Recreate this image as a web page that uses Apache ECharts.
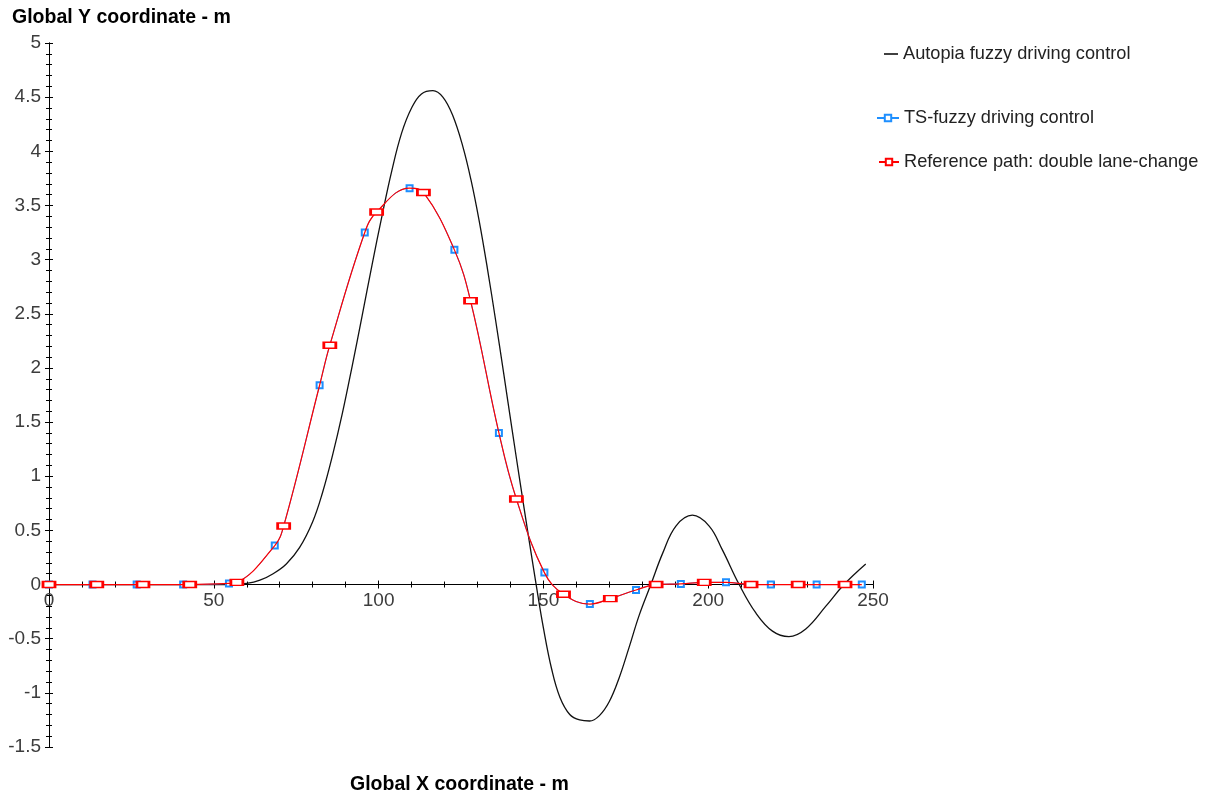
<!DOCTYPE html>
<html>
<head>
<meta charset="utf-8">
<script src="https://cdn.jsdelivr.net/npm/echarts@6/dist/echarts.min.js"></script>
<style>
  html, body { margin: 0; padding: 0; background: #fff; }
  #chart { width: 1212px; height: 800px; }
</style>
</head>
<body>
<div id="chart"></div>
<script>
// Autopia fuzzy driving control: lateral position along the track
const autoX = [0, 30, 55, 60, 64, 68, 72, 76, 80, 83, 86, 89, 92, 95, 98, 101, 104, 107, 110, 113,
  116.5, 119.5, 122.5, 125.5, 128.0, 130.5, 133.0, 135.5, 138.0, 140.5, 143.0, 145.5, 147.8,
  150.0, 152.5, 155.0, 158.0, 161.0, 164.0, 167.0, 170.0, 173.0, 176.0, 179.1, 182.6,
  186.2, 190.2, 195.2, 200.3, 204.3, 209.4, 214.4, 219.5, 224.5, 229.6, 235.7, 241.2, 247.8];
const autoY = [0, 0, 0, 0.01, 0.04, 0.10, 0.19, 0.34, 0.58, 0.85, 1.19, 1.58, 2.02, 2.48, 2.95, 3.40, 3.82, 4.17, 4.40, 4.53,
  4.56, 4.50, 4.33, 4.05, 3.74, 3.36, 2.92, 2.44, 1.94, 1.43, 0.93, 0.44, 0.0,
  -0.40, -0.78, -1.04, -1.20, -1.25, -1.26, -1.21, -1.08, -0.86, -0.58, -0.28, 0.0,
  0.29, 0.54, 0.64, 0.54, 0.32, 0.0, -0.26, -0.43, -0.48, -0.41, -0.20, 0.0, 0.19];

// Double lane-change path; the TS-fuzzy run follows it point for point
const pathX = [0, 13.2, 14.5, 26.6, 28.5, 40.7, 42.7, 54.6, 57.0, 68.5, 71.2, 82.1, 85.2, 95.8, 99.4,
  109.4, 113.6, 123.0, 127.9, 136.5, 141.8, 150.3, 156.1, 164.1, 170.3, 178.1, 184.2, 191.7,
  198.8, 205.4, 213.0, 219.0, 227.3, 232.9, 241.5, 246.6];
const pathY = [0, 0, 0, 0, 0, 0, 0, 0.01, 0.02, 0.36, 0.54, 1.84, 2.21, 3.25, 3.44,
  3.66, 3.62, 3.09, 2.62, 1.40, 0.79, 0.11, -0.09, -0.18, -0.13, -0.05, 0.0, 0.006,
  0.02, 0.02, 0, 0, 0, 0, 0, 0];
// 1 where each series puts a marker
const refMark = [1, 0, 1, 0, 1, 0, 1, 0, 1, 0, 1, 0, 1, 0, 1,
  0, 1, 0, 1, 0, 1, 0, 1, 0, 1, 0, 1, 0,
  1, 0, 1, 0, 1, 0, 1, 0];
const tsMark = [1, 1, 0, 1, 0, 1, 0, 1, 0, 1, 0, 1, 0, 1, 0,
  1, 0, 1, 0, 1, 0, 1, 0, 1, 0, 1, 0, 1,
  0, 1, 0, 1, 0, 1, 0, 1];

// Axis ranges and tick steps
const xRange = [0, 250], xStep = 50, xMinorSplit = 5;
const yRange = [-1.5, 5], yStep = 0.5, yMinorSplit = 5;

const seriesNames = ['Autopia fuzzy driving control', 'TS-fuzzy driving control', 'Reference path: double lane-change'];
const axisTitles = ['Global Y coordinate - m', 'Global X coordinate - m'];

const FONT = '"Liberation Sans", Arial, sans-serif';
const W = 1212, H = 800;
const gridBox = { left: 49, right: 339, top: 43, bottom: 53 };
// the x axis sits on y = 0: shift it up from the grid bottom
const gridH = H - gridBox.top - gridBox.bottom;
const zeroShift = gridH * (0 - yRange[0]) / (yRange[1] - yRange[0]);

function xAxisDef(gridIndex, inside) {
  return {
    type: 'value', gridIndex, min: xRange[0], max: xRange[1], interval: xStep,
    position: 'bottom', offset: -zeroShift,
    axisLine: { show: true, onZero: false, lineStyle: { color: '#000', width: 1 } },
    axisTick: { show: true, inside, length: 4, lineStyle: { color: '#000', width: 1 } },
    minorTick: { show: true, splitNumber: xMinorSplit, length: 3, lineStyle: { color: '#000', width: 1 } },
    axisLabel: { show: !inside, fontSize: 19, color: '#3c3c3c', fontFamily: FONT, margin: 7 },
    splitLine: { show: false }, minorSplitLine: { show: false }
  };
}
function yAxisDef(gridIndex, inside) {
  return {
    type: 'value', gridIndex, min: yRange[0], max: yRange[1], interval: yStep,
    position: 'left',
    axisLine: { show: true, onZero: false, lineStyle: { color: '#000', width: 1 } },
    axisTick: { show: true, inside, length: 4, lineStyle: { color: '#000', width: 1 } },
    minorTick: { show: true, splitNumber: yMinorSplit, length: 3, lineStyle: { color: '#000', width: 1 } },
    axisLabel: { show: !inside, fontSize: 19, color: '#3c3c3c', fontFamily: FONT, margin: 8 },
    splitLine: { show: false }, minorSplitLine: { show: false }
  };
}

const autoData = autoX.map((x, i) => [x, autoY[i]]);
const pathData = (marks) => pathX.map((x, i) => marks[i] ? [x, pathY[i]] : { value: [x, pathY[i]], symbol: 'none' });

const legendText = { fontSize: 18.2, color: '#222', fontFamily: FONT };
function legendDef(name, left, top, w, extra) {
  return Object.assign({ data: [name], left, top, orient: 'vertical', padding: 0, itemWidth: w, itemHeight: 8,
           itemGap: 5, textStyle: legendText, selectedMode: false }, extra || {});
}

const chart = echarts.init(document.getElementById('chart'), null, { renderer: 'canvas' });
chart.setOption({
  animation: false,
  backgroundColor: '#fff',
  grid: [Object.assign({}, gridBox), Object.assign({}, gridBox)],
  xAxis: [xAxisDef(0, false), xAxisDef(1, true)],
  yAxis: [yAxisDef(0, false), yAxisDef(1, true)],
  legend: [
    legendDef(seriesNames[0], 884, 45, 14, { icon: 'rect', itemHeight: 1.5 }),
    legendDef(seriesNames[1], 876, 109, 22),
    legendDef(seriesNames[2], 878, 153, 20)
  ],
  graphic: [
    { type: 'text', left: 12, top: 8, style: { text: axisTitles[0], font: 'bold 19.5px ' + FONT, fill: '#000' } },
    { type: 'text', left: 350, top: 775, style: { text: axisTitles[1], font: 'bold 19.5px ' + FONT, fill: '#000' } }
  ],
  series: [
    {
      name: seriesNames[0], type: 'line', xAxisIndex: 0, yAxisIndex: 0, data: autoData,
      smooth: 0.4, showSymbol: false, symbol: 'none', color: '#000', z: 2,
      lineStyle: { color: '#111', width: 1.3 }
    },
    {
      name: seriesNames[1], type: 'line', xAxisIndex: 0, yAxisIndex: 0, data: pathData(tsMark),
      smooth: 0.4, symbol: 'emptyRect', symbolSize: 6, showSymbol: true, color: '#1e8fff', z: 3,
      itemStyle: { color: '#1e8fff', borderColor: '#1e8fff', borderWidth: 1.2 },
      lineStyle: { color: '#1e8fff', width: 1 }
    },
    {
      name: seriesNames[2], type: 'line', xAxisIndex: 0, yAxisIndex: 0, data: pathData(refMark),
      smooth: 0.4, symbol: 'emptyRect', symbolSize: [12, 6], showSymbol: true, color: '#ff0000', z: 4,
      itemStyle: { color: '#ff0000', borderColor: '#ff0000', borderWidth: 1 },
      lineStyle: { color: '#ff0000', width: 1.2 }
    }
  ]
});
</script>
</body>
</html>
